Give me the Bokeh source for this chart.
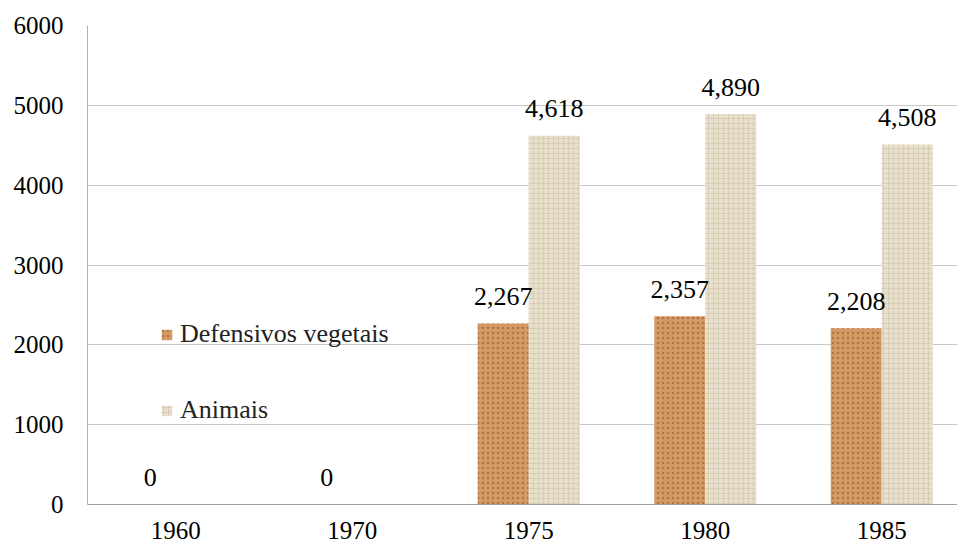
from bokeh.plotting import figure
from bokeh.models import ColumnDataSource, FixedTicker, Legend, LegendItem, Range1d
from bokeh.transform import dodge
from bokeh.core.properties import value
from bokeh.embed import file_html
from bokeh.resources import INLINE

years = ["1960", "1970", "1975", "1980", "1985"]
defensivos = [0, 0, 2267, 2357, 2208]
animais = [None, None, 4618, 4890, 4508]
y_ticks = [0, 1000, 2000, 3000, 4000, 5000, 6000]

FONT = "Liberation Serif"
xpos = list(range(len(years)))

src = ColumnDataSource(dict(
    x=xpos,
    d=defensivos,
    a=[float("nan") if v is None else v for v in animais],
))
lab_d = ColumnDataSource(dict(
    x=xpos, y=defensivos, t=[f"{v:,}" for v in defensivos]))
ax = [i for i, v in zip(xpos, animais) if v is not None]
av = [v for v in animais if v is not None]
lab_a = ColumnDataSource(dict(x=ax, y=av, t=[f"{v:,}" for v in av]))

W, H = 957, 546
p = figure(width=W, height=H, output_backend="svg", toolbar_location=None,
           x_range=Range1d(-0.5, -0.5 + (W - 87) / 176.5), y_range=Range1d(0, 6000),
           min_border_left=87, min_border_right=0, min_border_top=25,
           min_border_bottom=42)
p.outline_line_color = None
p.background_fill_color = "white"

w = 0.289
off = 0.1445
r_d = p.vbar(x=dodge("x", -off), top="d", width=w, source=src,
             fill_color="#d49a64", line_color=None,
             hatch_pattern="dot", hatch_color="#8a4b25", hatch_scale=5,
             hatch_alpha=0.5, hatch_weight=1)
r_a = p.vbar(x=dodge("x", off), top="a", width=w, source=src,
             fill_color="#e8e0cc", line_color=None,
             hatch_pattern="cross", hatch_color="#cbbfa3", hatch_scale=5,
             hatch_alpha=0.5, hatch_weight=1)

for s, o in ((lab_d, -off), (lab_a, off)):
    p.text(x=dodge("x", o), y="y", text="t", source=s,
           text_font=value(FONT), text_font_size="26px", text_color="black",
           text_align="center", text_baseline="alphabetic", y_offset=-27)

# axes
p.xaxis.ticker = FixedTicker(ticks=xpos)
p.xaxis.major_label_overrides = {i: y for i, y in zip(xpos, years)}
p.yaxis.ticker = FixedTicker(ticks=y_ticks)
for a in (p.xaxis, p.yaxis):
    a.major_label_text_font = FONT
    a.major_label_text_font_size = "25px"
    a.major_label_text_color = "black"
    a.major_tick_line_color = None
    a.minor_tick_line_color = None
    a.major_tick_out = 0
    a.major_tick_in = 0
p.xaxis.axis_line_color = "#a0a0a0"
p.yaxis.axis_line_color = "#b0b0b0"
p.xaxis.major_label_standoff = 17
p.yaxis.major_label_standoff = 24
p.xgrid.grid_line_color = None
p.ygrid.grid_line_color = "#c8c8c8"
p.ygrid.ticker = FixedTicker(ticks=y_ticks)

legend = Legend(items=[
    LegendItem(label="Defensivos vegetais", renderers=[r_d]),
    LegendItem(label="Animais", renderers=[r_a]),
], location=(73, 79), orientation="vertical")
legend.label_text_font = FONT
legend.label_text_font_size = "26px"
legend.label_text_color = "#222222"
legend.glyph_width = 13
legend.glyph_height = 13
legend.label_standoff = 7
legend.spacing = 46
legend.padding = 0
legend.margin = 0
legend.border_line_color = None
legend.background_fill_alpha = 0
p.add_layout(legend)

open("out.html", "w").write(file_html(p, INLINE))
